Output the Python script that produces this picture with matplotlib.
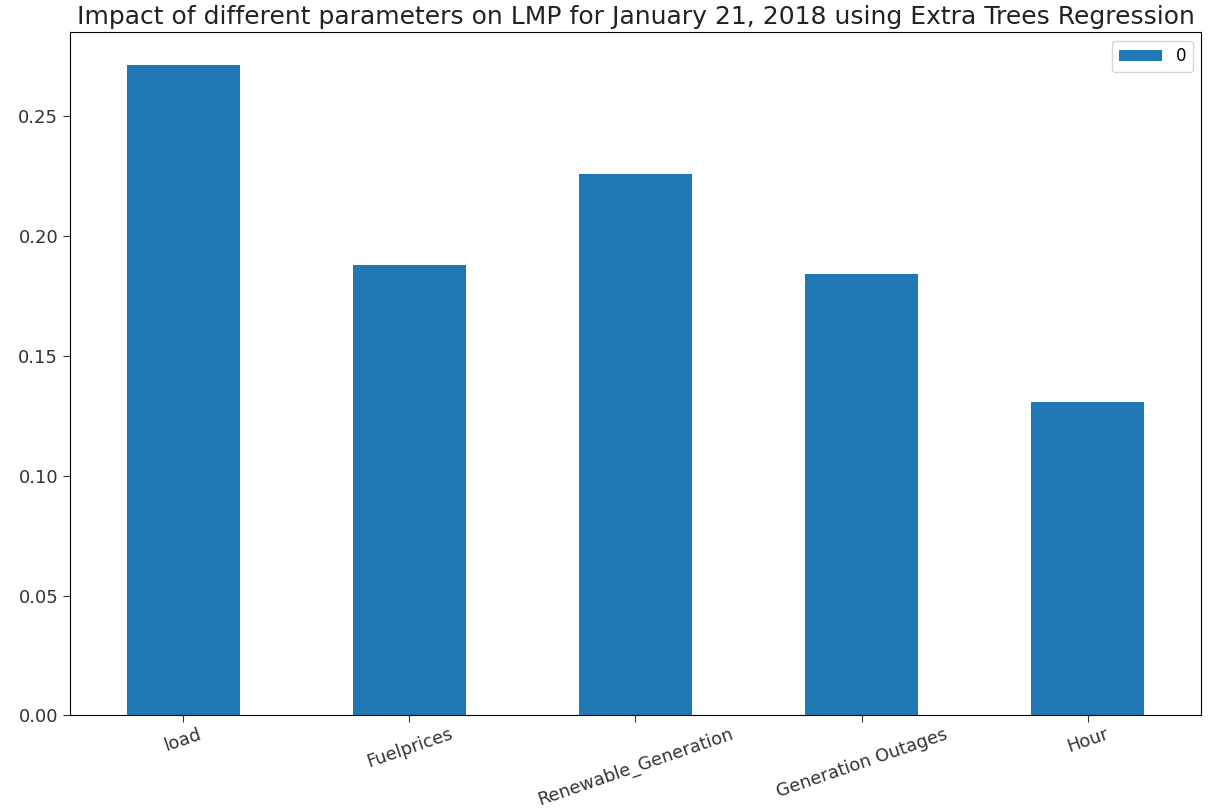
import matplotlib
matplotlib.use("Agg")
import matplotlib.pyplot as plt
import numpy as np

features = ["load", "Fuelprices", "Renewable_Generation", "Generation Outages", "Hour"]
importances = [0.2715, 0.1879, 0.2258, 0.1842, 0.1308]
series_name = "0"
title = "Impact of different parameters on LMP for January 21, 2018 using Extra Trees Regression"

fig = plt.figure(figsize=(12.28, 8.11), dpi=100)
ax = fig.add_axes([0.057, 0.118, 0.921, 0.842])

x = np.arange(len(features))
ax.bar(x, importances, width=0.5, color="#1f77b4", label=series_name)
ax.set_xlim(-0.5, len(features) - 0.5)
ax.set_ylim(0, max(importances) * 1.05)
ax.set_yticks([0.0, 0.05, 0.10, 0.15, 0.20, 0.25])
ax.set_yticklabels([f"{v:.2f}" for v in ax.get_yticks()], fontsize=13, color="#333333")
ax.set_xticks(x)
ax.set_xticklabels(features, rotation=19, ha="center", fontsize=12.8, color="#333333")
ax.tick_params(axis="x", pad=2)
ax.tick_params(axis="both", length=5, colors="#333333")
ax.set_title(title, fontsize=18, pad=6, color="#222222")
leg = ax.legend(loc="upper right", fontsize=12, handlelength=2.6)

fig.savefig("out.png", dpi=100)
